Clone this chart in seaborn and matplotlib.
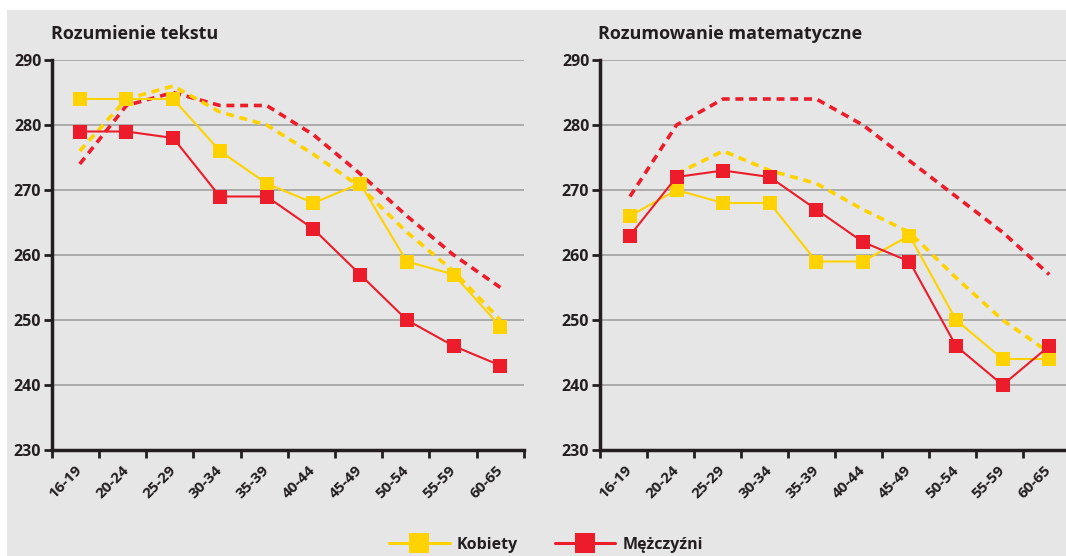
import numpy as np
import pandas as pd
import matplotlib
matplotlib.use("Agg")
import matplotlib.pyplot as plt
import seaborn as sns
from matplotlib.lines import Line2D
from matplotlib.patches import Rectangle

# ---------------- data ----------------
age_groups = ["16-19", "20-24", "25-29", "30-34", "35-39",
              "40-44", "45-49", "50-54", "55-59", "60-65"]
panel_titles = ["Rozumienie tekstu", "Rozumowanie matematyczne"]
y_ticks = [230, 240, 250, 260, 270, 280, 290]
legend_labels = ["Kobiety", "Mężczyźni"]

text_women = [284, 284, 284, 276, 271, 268, 271, 259, 257, 249]
text_men = [279, 279, 278, 269, 269, 264, 257, 250, 246, 243]
text_women_dashed = [276, 284, 286, 282, 280, 275.5, 270.5, 263.5, 257.5, 250]
text_men_dashed = [274, 283, 285, 283, 283, 278.5, 272.5, 266, 260, 255]

math_women = [266, 270, 268, 268, 259, 259, 263, 250, 244, 244]
math_men = [263, 272, 273, 272, 267, 262, 259, 246, 240, 246]
math_women_dashed = [np.nan, 272.5, 276, 273, 271, 267, 263.5, 256.5, 250, 245]
math_men_dashed = [269, 280, 284, 284, 284, 280, 274.5, 269, 263.5, 257]

# ---------------- style ----------------
YELLOW = "#FFD200"
RED = "#EC1C2A"
BG = "#E6E6E6"
DARK = "#231F20"
GRID = "#9B9B9B"

sns.set_style("white")
plt.rcParams["font.family"] = ["Open Sans", "DejaVu Sans"]

W, H = 1066, 556
fig = plt.figure(figsize=(W / 100, H / 100), dpi=100)
fig.patch.set_facecolor("white")
fig.patches.append(Rectangle((7 / W, 0), 1 - 7 / W, (H - 10) / H,
                             transform=fig.transFigure, facecolor=BG,
                             edgecolor="none", zorder=-10))


def px_axes(x0, x1, ytop, ybot):
    return fig.add_axes([x0 / W, (H - ybot) / H, (x1 - x0) / W, (ybot - ytop) / H])


panels = [
    dict(ax=px_axes(51.7, 523.7, 60, 450), xlim=(-0.6, 9.5), step=1.01,
         data=(text_women, text_men, text_women_dashed, text_men_dashed),
         title_x=51),
    dict(ax=px_axes(599.7, 1070, 60, 450), xlim=(-0.65, 9.43), step=1.0096,
         data=(math_women, math_men, math_women_dashed, math_men_dashed),
         title_x=598),
]

xpos = np.arange(len(age_groups))

for i, p in enumerate(panels):
    ax = p["ax"]
    ax.set_facecolor("none")
    women, men, women_d, men_d = p["data"]
    df = pd.DataFrame({"x": xpos, "women": women, "men": men,
                       "women_d": women_d, "men_d": men_d})

    sns.lineplot(data=df, x="x", y="men_d", ax=ax, color=RED, lw=2.6,
                 linestyle=(0, (2.2, 1.6)), zorder=2)
    sns.lineplot(data=df, x="x", y="women_d", ax=ax, color=YELLOW, lw=2.6,
                 linestyle=(0, (2.2, 1.6)), zorder=2)
    sns.lineplot(data=df, x="x", y="women", ax=ax, color=YELLOW, lw=1.5,
                 marker="s", markersize=10, markeredgewidth=0, zorder=3)
    sns.lineplot(data=df, x="x", y="men", ax=ax, color=RED, lw=1.5,
                 marker="s", markersize=10, markeredgewidth=0, zorder=4)

    ax.set_xlim(*p["xlim"])
    ax.set_ylim(230, 290)
    ax.set_xlabel("")
    ax.set_ylabel("")

    # y axis
    ax.set_yticks(y_ticks)
    ax.set_yticklabels([str(v) for v in y_ticks], fontsize=11.5,
                       fontweight="bold", color=DARK)
    ax.tick_params(axis="y", direction="out", length=6, width=2,
                   color=DARK, pad=1.5, left=True)
    for v in y_ticks[1:]:
        ax.axhline(v, color=GRID, lw=1.1, zorder=1)

    # x axis: boundary ticks (minor) + category labels (major)
    bounds = p["xlim"][0] + p["step"] * np.arange(11)
    ax.set_xticks(bounds, minor=True)
    ax.set_xticks(xpos)
    ax.set_xticklabels(age_groups, rotation=45, ha="right", va="center",
                       rotation_mode="anchor", fontsize=11, fontweight="bold",
                       color=DARK)
    ax.tick_params(axis="x", which="major", length=0, pad=13)
    ax.tick_params(axis="x", which="minor", direction="out", length=6,
                   width=2, color=DARK, bottom=True)

    for s in ["top", "right"]:
        ax.spines[s].set_visible(False)
    for s in ["left", "bottom"]:
        ax.spines[s].set_linewidth(2.5)
        ax.spines[s].set_color(DARK)
        ax.spines[s].set_zorder(5)

    fig.text(p["title_x"] / W, (H - 34) / H, panel_titles[i], fontsize=13,
             fontweight="bold", color=DARK, ha="left", va="center")

handles = [
    Line2D([], [], color=YELLOW, lw=2.2, marker="s", markersize=14.5,
           markeredgewidth=0),
    Line2D([], [], color=RED, lw=2.2, marker="s", markersize=14.5,
           markeredgewidth=0),
]
leg = fig.legend(handles, legend_labels, loc="center", ncol=2, frameon=False,
                 bbox_to_anchor=(546 / W, (H - 545) / H),
                 prop={"size": 11.5, "weight": "bold"}, handlelength=3.8,
                 handletextpad=0.45, columnspacing=2.3, borderpad=0)
for t in leg.get_texts():
    t.set_color(DARK)

fig.savefig("out.png", dpi=100, facecolor=fig.get_facecolor())
